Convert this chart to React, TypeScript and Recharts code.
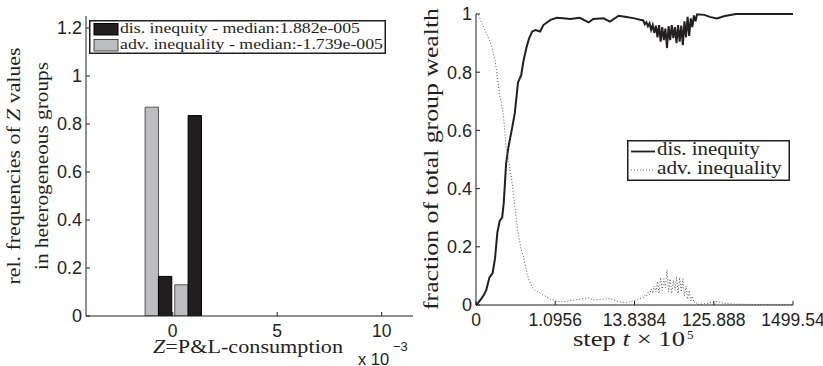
import {
  Bar,
  ComposedChart,
  Label,
  Legend,
  Line,
  LineChart,
  XAxis,
  YAxis,
} from "recharts";

const INK = "#231f20";
const SANS = "'Liberation Sans', Arial, sans-serif";
const SERIF = "'Liberation Serif', 'Times New Roman', serif";
const FIT = "spacingAndGlyphs";

// left panel: histogram of Z (x 10^-3)
const binCenters = [-0.66, 0.76];
const disFreq = [0.165, 0.835];
const advFreq = [0.87, 0.13];
const freqTicks = [0, 0.2, 0.4, 0.6, 0.8, 1, 1.2];
const zTicks = [0, 5, 10];

// right panel: wealth share over (rescaled) steps
const stepIdx = [
  0, 3, 7, 10, 13, 17, 21, 24, 27, 30, 33, 35, 38, 41, 45, 49, 53, 57, 60, 64,
  67, 71, 75, 81, 85, 94, 102, 110, 119, 131, 142, 148, 161, 169, 180, 190, 200, 207,
  211, 213, 215, 217, 219, 221, 223, 225, 227, 229, 231, 233, 235, 237, 239, 241,
  243, 245, 247, 249, 251, 253, 255, 257, 259, 261, 263, 265, 267, 269, 271, 273,
  275, 277, 279,
  288, 295, 304, 314, 328, 350, 375, 400,
];
const disShare = [
  0, 0.008, 0.023, 0.035, 0.052, 0.095, 0.11, 0.16, 0.25, 0.29, 0.3, 0.35, 0.487,
  0.544, 0.6, 0.66, 0.765, 0.79, 0.84, 0.888, 0.916, 0.94, 0.945, 0.94, 0.962,
  0.98, 0.987, 0.985, 0.983, 0.987, 0.971, 0.983, 0.985, 0.974, 0.994, 0.99, 0.985, 0.98,
  0.978, 0.965, 0.972, 0.958, 0.968, 0.945, 0.962, 0.935, 0.96, 0.92, 0.962, 0.905,
  0.955, 0.91, 0.95, 0.883, 0.958, 0.91, 0.962, 0.917, 0.955, 0.9, 0.962, 0.905,
  0.96, 0.893, 0.975, 0.92, 0.99, 0.925, 0.985, 0.955, 0.995, 0.975, 0.999,
  0.997, 0.99, 0.985, 0.993, 1, 1, 1, 1,
];
const advShare = [
  1, 0.997, 0.97, 0.955, 0.935, 0.91, 0.876, 0.84, 0.785, 0.716, 0.68, 0.64, 0.54,
  0.5, 0.43, 0.34, 0.25, 0.19, 0.166, 0.11, 0.086, 0.06, 0.05, 0.04, 0.034,
  0.02, 0.013, 0.011, 0.015, 0.02, 0.025, 0.017, 0.02, 0.023, 0.011, 0.008, 0.015, 0.023,
  0.025, 0.035, 0.03, 0.042, 0.035, 0.055, 0.04, 0.065, 0.045, 0.08, 0.04, 0.095,
  0.05, 0.09, 0.06, 0.12, 0.045, 0.09, 0.04, 0.085, 0.05, 0.097, 0.04, 0.095,
  0.045, 0.09, 0.03, 0.065, 0.02, 0.05, 0.015, 0.03, 0.008, 0.012, 0.002,
  0.004, 0.008, 0.012, 0.005, 0.003, 0.002, 0.002, 0.002,
];
const stepTicks = [0, 100, 200, 300, 400];
const stepLabels = ["0", "1.0956", "13.8384", "125.888", "1499.54"];
const shareTicks = [0, 0.2, 0.4, 0.6, 0.8, 1];

const bins = binCenters.map((z, i) => ({ z, dis: disFreq[i], adv: advFreq[i] }));
const trend = stepIdx.map((step, i) => ({ step, dis: disShare[i], adv: advShare[i] }));

/** y tick: label left of the axis, short tick pointing inward (MATLAB style) */
function YTick(props: any) {
  const { x, y, payload } = props;
  return (
    <g>
      <line x1={x} y1={y} x2={x + 4} y2={y} stroke={INK} />
      <text x={x - 4} y={y} dy="0.36em" textAnchor="end" fontSize={18} fontFamily={SANS} fill={INK}>
        {String(payload.value)}
      </text>
    </g>
  );
}

function XTick(props: any) {
  const { x, y, payload, labels } = props;
  const txt = labels ? labels[stepTicks.indexOf(payload.value)] : String(payload.value);
  return (
    <g>
      <line x1={x} y1={y} x2={x} y2={y - 4} stroke={INK} />
      <text x={x} y={y + 15} dy="0.36em" textAnchor="middle" fontSize={17.5} fontFamily={SANS} fill={INK}>
        {txt}
      </text>
    </g>
  );
}

function LeftYTitle() {
  return (
    <g fill={INK} fontFamily={SERIF} fontSize={19}>
      <text transform="translate(20,166) rotate(-90)" textAnchor="middle" textLength={237} lengthAdjust={FIT}>
        rel. frequencies of{" "}<tspan fontStyle="italic">Z</tspan>{" "}values
      </text>
      <text transform="translate(48,166) rotate(-90)" textAnchor="middle" textLength={208} lengthAdjust={FIT}>
        in heterogeneous groups
      </text>
    </g>
  );
}

function LeftXTitle() {
  return (
    <g fill={INK}>
      <text x={153} y={353} fontFamily={SERIF} fontSize={18} textLength={190} lengthAdjust={FIT}>
        <tspan fontStyle="italic">Z</tspan>=P&amp;L-consumption
      </text>
      <text x={358} y={365} fontFamily={SANS} fontSize={16.5}>x 10</text>
      <text x={393} y={351} fontFamily={SANS} fontSize={13}>−3</text>
    </g>
  );
}

function RightYTitle() {
  return (
    <text
      transform="translate(28,159) rotate(-90)"
      textAnchor="middle"
      fill={INK}
      fontFamily={SERIF}
      fontSize={21}
      textLength={302}
      lengthAdjust={FIT}
    >
      fraction of total group wealth
    </text>
  );
}

function RightXTitle() {
  return (
    <g fill={INK} fontFamily={SERIF}>
      <text x={163} y={346} fontSize={21} textLength={112} lengthAdjust={FIT}>
        step <tspan fontStyle="italic">t</tspan> × 10
      </text>
      <text x={277} y={339} fontSize={13}>5</text>
    </g>
  );
}

function LeftLegend() {
  return (
    <svg width={297} height={34} style={{ display: "block" }}>
      <rect x={0.75} y={0.75} width={295.5} height={32.5} fill="#fff" stroke={INK} strokeWidth={1.5} />
      <rect x={5} y={3.5} width={24} height={11.5} fill="#221e1f" stroke="#000" />
      <rect x={5} y={19.5} width={24} height={11.5} fill="#bcbdc0" stroke="#444" />
      <g fill={INK} fontFamily={SERIF} fontSize={15}>
        <text x={31} y={13} textLength={240} lengthAdjust={FIT}>dis. inequity - median:1.882e-005</text>
        <text x={31} y={29} textLength={263} lengthAdjust={FIT}>adv. inequality - median:-1.739e-005</text>
      </g>
    </svg>
  );
}

function RightLegend() {
  return (
    <svg width={163} height={41} style={{ display: "block" }}>
      <rect x={0.75} y={0.75} width={161.5} height={39.5} fill="#fff" stroke={INK} strokeWidth={1.5} />
      <line x1={4} y1={11.5} x2={28} y2={11.5} stroke={INK} strokeWidth={1.8} />
      <line x1={4} y1={30} x2={28} y2={30} stroke="#666" strokeDasharray="1 2" />
      <g fill={INK} fontFamily={SERIF} fontSize={19}>
        <text x={30} y={15} textLength={103} lengthAdjust={FIT}>dis. inequity</text>
        <text x={30} y={34} textLength={125} lengthAdjust={FIT}>adv. inequality</text>
      </g>
    </svg>
  );
}

export default function App() {
  return (
    <div style={{ position: "absolute", left: 0, top: 0, width: 823, height: 366, background: "#fff" }}>
      <div style={{ position: "absolute", left: 0, top: 0 }}>
        <ComposedChart
          width={420}
          height={366}
          data={bins}
          margin={{ top: 16, right: 7, bottom: 20, left: 0 }}
          barGap={0}
        >
          <XAxis
            dataKey="z"
            type="number"
            domain={[-4.15, 11.5]}
            ticks={zTicks}
            allowDataOverflow
            height={30}
            tickSize={0}
            tickMargin={0}
            tickLine={false}
            axisLine={{ stroke: INK }}
            tick={(p: any) => <XTick {...p} />}
          >
            <Label content={LeftXTitle} />
          </XAxis>
          <YAxis
            type="number"
            domain={[0, 1.25]}
            ticks={freqTicks}
            allowDataOverflow
            width={86}
            tickSize={0}
            tickMargin={0}
            tickLine={false}
            axisLine={{ stroke: INK }}
            tick={(p: any) => <YTick {...p} />}
          >
            <Label content={LeftYTitle} />
          </YAxis>
          <Legend
            layout="vertical"
            align="center"
            verticalAlign="middle"
            content={LeftLegend}
            wrapperStyle={{ left: 89, top: 20, width: 297, height: 34 }}
          />
          <Bar dataKey="adv" barSize={15} fill="#bcbdc0" stroke="#555" isAnimationActive={false} />
          <Bar dataKey="dis" barSize={15} fill="#221e1f" stroke="#000" isAnimationActive={false} />
        </ComposedChart>
      </div>
      <div style={{ position: "absolute", left: 410, top: 0 }}>
        <LineChart
          width={413}
          height={366}
          data={trend}
          margin={{ top: 14, right: 30, bottom: 31, left: 0 }}
        >
          <XAxis
            dataKey="step"
            type="number"
            domain={[0, 400]}
            ticks={stepTicks}
            height={30}
            tickSize={0}
            tickMargin={0}
            tickLine={false}
            axisLine={{ stroke: INK }}
            tick={(p: any) => <XTick {...p} labels={stepLabels} />}
          >
            <Label content={RightXTitle} />
          </XAxis>
          <YAxis
            type="number"
            domain={[0, 1]}
            ticks={shareTicks}
            width={66}
            tickSize={0}
            tickMargin={0}
            tickLine={false}
            axisLine={{ stroke: INK }}
            tick={(p: any) => <YTick {...p} />}
          >
            <Label content={RightYTitle} />
          </YAxis>
          <Legend
            layout="vertical"
            align="center"
            verticalAlign="middle"
            content={RightLegend}
            wrapperStyle={{ left: 217, top: 140, width: 163, height: 41 }}
          />
          <Line
            dataKey="dis"
            type="linear"
            stroke={INK}
            strokeWidth={2}
            dot={false}
            isAnimationActive={false}
          />
          <Line
            dataKey="adv"
            type="linear"
            stroke="#555"
            strokeWidth={1}
            strokeDasharray="1 2"
            dot={false}
            isAnimationActive={false}
          />
        </LineChart>
      </div>
    </div>
  );
}
